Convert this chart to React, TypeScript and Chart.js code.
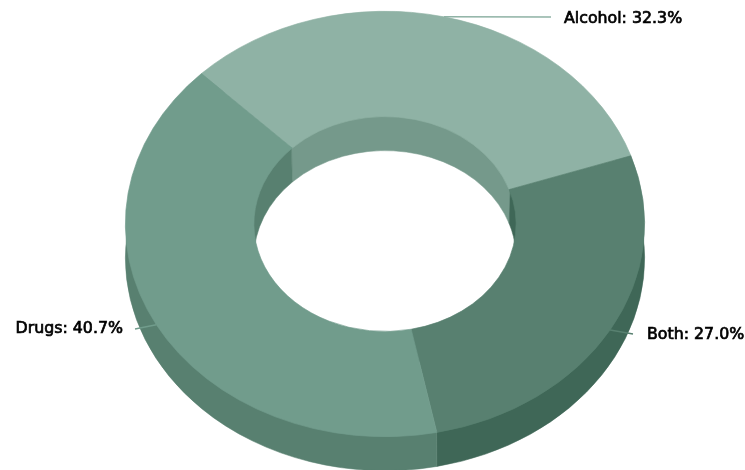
import { useEffect, useRef } from "react";
import { Chart, registerables } from "chart.js";

Chart.register(...registerables);

const categories = ["Alcohol", "Both", "Drugs"];
const shares = [32.3, 27.0, 40.7];
const faceColors = ["#8fb2a5", "#588070", "#719c8c"];
const wallColors = ["#75998b", "#3f6757", "#588070"];

const WIDTH = 745;
const HEIGHT = 470;
const STRETCH_X = 260 / 213;
const DEPTH = 34;
const LABEL_FONT = "15.8px 'DejaVu Sans'";

// Anchors of each callout: connector end and text start, by category.
const connectorEnds = [
  { x: 551, y: 17 },
  { x: 633, y: 334 },
  { x: 135, y: 329 },
];
const textAnchors = [
  { x: 564, y: 19, align: "left" },
  { x: 647, y: 335, align: "left" },
  { x: 123, y: 329, align: "right" },
];

// Traces the band swept by one circular edge as it drops by the ring's depth.
// The upper rim is tucked under the face so no background leaks along the seam,
// and the thin stroke closes the joint between neighbouring wall pieces.
function sweptBand(ctx: any, x: number, y: number, r: number, tuck: number, start: number, end: number) {
  ctx.beginPath();
  ctx.arc(x, y, r + tuck, start, end);
  ctx.arc(x, y + DEPTH, r, end, start, true);
  ctx.closePath();
  ctx.fill();
  ctx.stroke();
}

// Stretches the circular ring into an ellipse and paints its walls beneath it.
const tiltedRing = {
  id: "tiltedRing",
  beforeDatasetsDraw(chart: any) {
    const ctx = chart.ctx;
    const arcs = chart.getDatasetMeta(0).data;
    const cx = arcs[0].x;
    ctx.save();
    ctx.translate(cx, 0);
    ctx.scale(STRETCH_X, 1);
    ctx.translate(-cx, 0);
    ctx.lineWidth = 0.5;
    arcs.forEach((arc: any, i: number) => {
      ctx.fillStyle = wallColors[i];
      ctx.strokeStyle = wallColors[i];
      sweptBand(ctx, arc.x, arc.y, arc.innerRadius, 1, arc.startAngle, arc.endAngle);
      sweptBand(ctx, arc.x, arc.y, arc.outerRadius, -1, arc.startAngle, arc.endAngle);
    });
  },
  afterDatasetsDraw(chart: any) {
    chart.ctx.restore();
  },
  afterDraw(chart: any) {
    const ctx = chart.ctx;
    const arcs = chart.getDatasetMeta(0).data;
    arcs.forEach((arc: any, i: number) => {
      const mid = (arc.startAngle + arc.endAngle) / 2;
      const startX = arc.x + Math.cos(mid) * arc.outerRadius * STRETCH_X;
      const startY = arc.y + Math.sin(mid) * arc.outerRadius;
      ctx.save();
      ctx.strokeStyle = faceColors[i];
      ctx.lineWidth = 1.5;
      ctx.beginPath();
      ctx.moveTo(startX, startY);
      ctx.lineTo(connectorEnds[i].x, connectorEnds[i].y);
      ctx.stroke();
      ctx.fillStyle = "#000000";
      ctx.strokeStyle = "#000000";
      ctx.lineWidth = 0.7;
      ctx.font = LABEL_FONT;
      ctx.textBaseline = "middle";
      ctx.textAlign = textAnchors[i].align;
      const text = `${categories[i]}: ${shares[i].toFixed(1)}%`;
      ctx.fillText(text, textAnchors[i].x, textAnchors[i].y);
      ctx.strokeText(text, textAnchors[i].x, textAnchors[i].y);
      ctx.restore();
    });
  },
};

export default function App() {
  const canvasRef = useRef<HTMLCanvasElement>(null);

  useEffect(() => {
    document.body.style.margin = "0";
    const chart = new Chart(canvasRef.current!, {
      type: "doughnut",
      data: {
        labels: categories,
        datasets: [
          {
            data: shares,
            backgroundColor: faceColors,
            borderColor: faceColors,
            borderWidth: 0.6,
            clip: false,
          } as any,
        ],
      },
      options: {
        responsive: false,
        animation: false,
        rotation: -45,
        cutout: "50.5%",
        layout: { padding: { top: 11, bottom: 33, left: 25, right: 0 } },
        plugins: { legend: { display: false }, tooltip: { enabled: false } },
      },
      plugins: [tiltedRing],
    });
    return () => chart.destroy();
  }, []);

  return <canvas ref={canvasRef} width={WIDTH} height={HEIGHT} style={{ display: "block" }} />;
}
